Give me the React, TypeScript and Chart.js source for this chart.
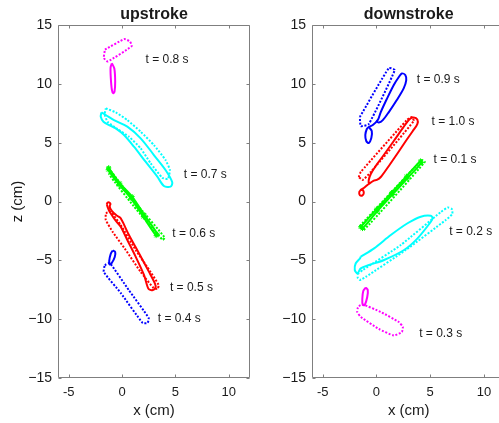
import React, { useEffect, useRef } from 'react';
import { Chart, registerables } from 'chart.js';

Chart.register(...registerables);

type P = [number, number];

const X_TICKS = [-5, 0, 5, 10];
const Y_TICKS = [-15, -10, -5, 0, 5, 10, 15];
const X_MIN = -6;
const X_MAX = 12;
// the right-hand axes run past the edge of the picture; only this much of it is visible
const X_MAX_VISIBLE_RIGHT = 11.4;
const Y_MIN = -15;
const Y_MAX = 15;

// ---------- upstroke ----------
const UP_08_SOLID: P[] = [[-0.95, 11.75], [-0.72, 11.3], [-0.64, 10.2], [-0.7, 9.35], [-0.82, 9.2], [-0.95, 9.5], [-1.05, 10.5], [-1.07, 11.4], [-0.95, 11.75]];
const UP_08_DOT: P[] = [[-1.6, 12.9], [0.2, 13.8], [0.75, 13.6], [0.9, 13.2], [-1.35, 11.9], [-1.7, 12.2], [-1.6, 12.9]];
const UP_07_SOLID: P[] = [[-1.93, 7.58], [-1.52, 7.35], [-0.75, 6.92], [0.5, 6.36], [1.75, 5.37], [2.99, 3.95], [4.08, 2.68], [4.71, 1.63], [4.55, 1.26], [3.93, 1.32], [3.31, 2.11], [2.21, 3.38], [1.12, 4.66], [0.19, 5.65], [-0.59, 6.22], [-1.21, 6.5], [-1.74, 6.78], [-1.99, 7.2], [-1.93, 7.58]];
const UP_07_DOT: P[] = [[-1.52, 7.92], [-0.59, 7.58], [0.5, 6.92], [1.75, 5.93], [2.99, 4.8], [4.08, 3.53], [4.49, 2.68], [4.3, 1.91], [3.78, 2.02], [2.68, 3.25], [1.75, 4.52], [0.65, 5.51], [-0.43, 6.16], [-1.36, 6.78], [-1.62, 7.41], [-1.52, 7.92]];
const UP_06_SOLID: P[] = [[-1.25, 2.85], [-0.2, 1.55], [0.95, 0.42], [2.1, -1.15], [3.33, -2.78], [3.2, -2.9], [2.0, -1.3], [0.85, 0.25], [-0.3, 1.45], [-1.3, 2.7], [-1.25, 2.85]];
const UP_06_DOT: P[] = [[-1.05, 2.6], [1.3, -0.15], [4.0, -3.05], [3.8, -3.25], [1.1, -0.4], [-1.2, 2.3], [-1.05, 2.6]];
const UP_05_SOLID: P[] = [[-1.43, -0.24], [-1.36, -0.1], [-1.21, -0.07], [-1.08, -0.21], [-1.15, -0.38], [-1.06, -0.66], [-0.75, -1.0], [-0.43, -1.23], [-0.12, -1.43], [0.65, -2.85], [1.59, -4.4], [2.52, -5.96], [3.08, -6.95], [3.15, -7.29], [2.9, -7.52], [2.52, -7.46], [2.37, -7.18], [2.06, -6.24], [1.28, -4.69], [0.5, -3.27], [-0.12, -2.14], [-0.59, -1.63], [-0.9, -1.23], [-1.21, -0.78], [-1.36, -0.44], [-1.43, -0.24]];
const UP_05_DOT: P[] = [[-1.52, -0.98], [-1.06, -0.89], [-0.12, -2.0], [1.28, -4.12], [2.68, -5.99], [3.43, -7.09], [3.34, -7.43], [2.96, -7.35], [1.75, -5.99], [0.35, -4.12], [-0.87, -2.59], [-1.52, -1.57], [-1.52, -0.98]];
const UP_04_SOLID: P[] = [[-0.87, -4.16], [-0.64, -4.29], [-0.68, -4.72], [-0.96, -5.23], [-1.15, -5.35], [-1.2, -5.06], [-1.06, -4.46], [-0.87, -4.16]];
const UP_04_DOT: P[] = [[-1.62, -5.4], [-1.15, -5.23], [0.63, -7.52], [2.5, -9.9], [2.4, -10.32], [1.93, -10.32], [-0.12, -7.77], [-1.71, -5.99], [-1.62, -5.4]];

const UP_LABELS = ['t = 0.8 s', 't = 0.7 s', 't = 0.6 s', 't = 0.5 s', 't = 0.4 s'];
const UP_LABEL_X = [2.21, 5.79, 4.71, 4.49, 3.36];
const UP_LABEL_Y = [12.08, 2.25, -2.7, -7.29, -9.98];

// ---------- downstroke ----------
const DN_09_SOLID: P[] = [[-0.72, 6.33], [-0.44, 5.99], [-0.48, 5.4], [-0.72, 4.97], [-0.95, 5.14], [-1.04, 5.65], [-0.9, 6.16], [-0.72, 6.33], [-0.34, 6.5], [0.12, 6.92], [0.4, 7.6], [0.96, 8.71], [1.61, 9.9], [2.08, 10.58], [2.36, 10.88], [2.68, 10.75], [2.77, 10.32], [2.54, 9.64], [1.89, 8.62], [1.15, 7.6], [0.59, 6.92], [0.21, 6.71], [0.03, 6.84], [0.12, 6.92]];
const DN_09_DOT: P[] = [[-1.55, 7.18], [1.15, 11.34], [1.7, 11.17], [-0.72, 6.58], [-1.46, 6.41], [-1.55, 7.18]];
const DN_10_SOLID: P[] = [[-1.46, 0.98], [-1.6, 0.81], [-1.55, 0.55], [-1.32, 0.51], [-1.18, 0.72], [-1.28, 0.98], [-1.46, 0.98], [-1.18, 1.15], [-0.72, 1.49], [-0.25, 1.78], [0.03, 1.83], [0.4, 2.08], [1.15, 3.02], [1.98, 4.12], [2.73, 5.14], [3.38, 5.99], [3.8, 6.58], [3.8, 6.97], [3.47, 7.14], [3.1, 7.01], [2.45, 6.24], [1.61, 5.14], [0.68, 3.95], [-0.07, 3.02], [-0.53, 2.34], [-0.72, 1.83], [-0.72, 1.49]];
const DN_10_DOT: P[] = [[-1.65, 2.08], [-1.46, 2.51], [2.82, 6.92], [3.29, 7.18], [3.47, 6.84], [-0.53, 2.51], [-1.28, 1.83], [-1.65, 2.08]];
const DN_01_SOLID: P[] = [[-1.45, -2.15], [0.0, -0.65], [1.4, 0.75], [2.8, 2.15], [4.1, 3.45], [4.2, 3.3], [2.9, 2.0], [1.5, 0.6], [0.1, -0.8], [-1.3, -2.3], [-1.45, -2.15]];
const DN_01_DOT: P[] = [[-1.55, -2.08], [4.22, 3.53], [4.5, 3.36], [-1.18, -2.42], [-1.55, -2.08]];
const DN_02_SOLID: P[] = [[-1.46, -4.69], [-0.22, -3.98], [1.33, -2.85], [2.89, -1.85], [4.12, -1.29], [5.06, -1.21], [5.21, -1.43], [5.06, -1.72], [3.82, -3.13], [2.57, -4.12], [0.71, -4.97], [-0.69, -5.4], [-1.46, -5.68], [-1.77, -6.1], [-2.02, -5.82], [-1.93, -5.25], [-1.53, -4.83], [-1.46, -4.69]];
const DN_02_DOT: P[] = [[-1.74, -6.16], [-1.27, -5.82], [2.26, -3.7], [5.99, -0.89], [6.64, -0.51], [7.01, -0.64], [7.06, -1.06], [6.45, -1.57], [2.73, -4.12], [-1.0, -6.41], [-1.55, -6.67], [-1.74, -6.5], [-1.74, -6.16]];
const DN_03_SOLID: P[] = [[-1.0, -7.31], [-0.81, -7.52], [-0.86, -8.11], [-1.09, -8.79], [-1.28, -8.79], [-1.32, -8.28], [-1.23, -7.6], [-1.0, -7.31]];
const DN_03_DOT: P[] = [[-1.65, -8.88], [-1.28, -8.75], [0.4, -9.39], [2.08, -10.24], [2.45, -10.66], [2.36, -11.09], [1.61, -11.38], [0.21, -10.83], [-1.46, -9.81], [-1.79, -9.39], [-1.74, -9.05], [-1.65, -8.88]];

const DN_LABELS = ['t = 0.9 s', 't = 1.0 s', 't = 0.1 s', 't = 0.2 s', 't = 0.3 s'];
const DN_LABEL_X = [3.75, 5.12, 5.31, 6.76, 3.97];
const DN_LABEL_Y = [10.38, 6.78, 3.53, -2.57, -11.2];

const MAGENTA = '#ff00ff';
const CYAN = '#00ffff';
const GREEN = '#00ff00';
const RED = '#ff0000';
const BLUE = '#0000ff';

const FONT = '"Liberation Sans", Arial, Helvetica, sans-serif';
const TEXT = '#1a1a1a';
const FRAME = '#7f7f7f';

type Series = { pts: P[]; color: string; dotted: boolean; star?: boolean };

const UP_SERIES: Series[] = [
  { pts: UP_08_DOT, color: MAGENTA, dotted: true },
  { pts: UP_08_SOLID, color: MAGENTA, dotted: false },
  { pts: UP_07_DOT, color: CYAN, dotted: true },
  { pts: UP_07_SOLID, color: CYAN, dotted: false },
  { pts: UP_06_DOT, color: GREEN, dotted: true },
  { pts: UP_06_SOLID, color: GREEN, dotted: false, star: true },
  { pts: UP_05_DOT, color: RED, dotted: true },
  { pts: UP_05_SOLID, color: RED, dotted: false },
  { pts: UP_04_DOT, color: BLUE, dotted: true },
  { pts: UP_04_SOLID, color: BLUE, dotted: false },
];

const DN_SERIES: Series[] = [
  { pts: DN_09_DOT, color: BLUE, dotted: true },
  { pts: DN_09_SOLID, color: BLUE, dotted: false },
  { pts: DN_10_DOT, color: RED, dotted: true },
  { pts: DN_10_SOLID, color: RED, dotted: false },
  { pts: DN_01_DOT, color: GREEN, dotted: true },
  { pts: DN_01_SOLID, color: GREEN, dotted: false, star: true },
  { pts: DN_02_DOT, color: CYAN, dotted: true },
  { pts: DN_02_SOLID, color: CYAN, dotted: false },
  { pts: DN_03_DOT, color: MAGENTA, dotted: true },
  { pts: DN_03_SOLID, color: MAGENTA, dotted: false },
];

const fmtTick = (v: number) => (v < 0 ? '\u2212' + Math.abs(v) : String(v));

function makeConfig(title: string, series: Series[], labels: string[], lx: number[], ly: number[], showZ: boolean, xMax: number, padRight: number, drawRight: boolean): any {
  const datasets = series.map((s) => ({
    data: s.pts.map(([x, y]) => ({ x, y })),
    borderColor: s.color,
    backgroundColor: s.color,
    borderWidth: 2,
    borderDash: s.dotted ? [2, 1.6] : [],
    tension: s.dotted ? 0.15 : 0.3,
    fill: false,
    showLine: true,
    pointRadius: s.star ? 2.5 : 0,
    pointStyle: 'star',
    pointBorderColor: s.color,
    pointBorderWidth: 1,
  }));

  const panelPlugin = {
    id: 'panel',
    afterDraw(chart: any) {
      const { ctx, chartArea: a, scales } = chart;
      const xs = scales.x;
      const ys = scales.y;
      ctx.save();
      ctx.strokeStyle = FRAME;
      ctx.lineWidth = 1;
      const L = Math.round(a.left) + 0.5;
      const R = drawRight ? Math.round(a.right) - 0.5 : Math.round(a.right) + 2;
      const T = Math.round(a.top) + 0.5;
      const B = Math.round(a.bottom) - 0.5;
      ctx.beginPath();
      ctx.moveTo(R, T);
      ctx.lineTo(L, T);
      ctx.lineTo(L, B);
      ctx.lineTo(R, B);
      if (drawRight) ctx.lineTo(R, T);
      ctx.stroke();
      const tl = 3;
      ctx.beginPath();
      X_TICKS.forEach((v) => {
        const px = Math.round(xs.getPixelForValue(v)) + 0.5;
        ctx.moveTo(px, B);
        ctx.lineTo(px, B - tl);
        ctx.moveTo(px, T);
        ctx.lineTo(px, T + tl);
      });
      Y_TICKS.forEach((v) => {
        const py = Math.round(ys.getPixelForValue(v)) + 0.5;
        ctx.moveTo(L, py);
        ctx.lineTo(L + tl, py);
        if (drawRight) {
          ctx.moveTo(R, py);
          ctx.lineTo(R - tl, py);
        }
      });
      ctx.stroke();

      ctx.fillStyle = TEXT;
      ctx.font = `bold 16px ${FONT}`;
      ctx.textAlign = 'center';
      ctx.textBaseline = 'middle';
      ctx.fillText(title, xs.getPixelForValue((X_MIN + X_MAX) / 2), 15);

      ctx.font = `15px ${FONT}`;
      ctx.fillText('x (cm)', xs.getPixelForValue((X_MIN + X_MAX) / 2), 411);

      ctx.font = `12px ${FONT}`;
      ctx.textAlign = 'left';
      labels.forEach((t, i) => {
        ctx.fillText(t, xs.getPixelForValue(lx[i]), ys.getPixelForValue(ly[i]));
      });
      ctx.restore();
    },
  };

  return {
    type: 'line',
    data: { datasets },
    plugins: [panelPlugin],
    options: {
      animation: false,
      responsive: false,
      devicePixelRatio: 1,
      layout: { autoPadding: false, padding: { top: 25, right: padRight, left: 0, bottom: 0 } },
      plugins: { legend: { display: false }, tooltip: { enabled: false }, title: { display: false } },
      scales: {
        x: {
          type: 'linear',
          min: X_MIN,
          max: xMax,
          afterBuildTicks: (s: any) => {
            s.ticks = X_TICKS.map((v) => ({ value: v }));
          },
          afterFit: (s: any) => {
            s.height = 45;
          },
          grid: { display: false, drawTicks: false },
          border: { display: false },
          ticks: { padding: 7, color: TEXT, font: { family: FONT, size: 13 }, maxRotation: 0 },
          title: { display: false },
        },
        y: {
          type: 'linear',
          min: Y_MIN,
          max: Y_MAX,
          afterBuildTicks: (s: any) => {
            s.ticks = Y_TICKS.map((v) => ({ value: v }));
          },
          afterFit: (s: any) => {
            s.width = 58;
          },
          grid: { display: false, drawTicks: false },
          border: { display: false },
          ticks: { padding: 6, color: TEXT, font: { family: FONT, size: 14 }, callback: (v: number) => fmtTick(v) },
          title: { display: showZ, text: 'z (cm)', color: TEXT, font: { family: FONT, size: 15 }, padding: { top: 9, bottom: 0 } },
        },
      },
    },
  };
}

function Panel(props: { left: number; width: number; config: () => any }) {
  const ref = useRef<HTMLCanvasElement | null>(null);
  useEffect(() => {
    if (!ref.current) return;
    const chart = new Chart(ref.current, props.config());
    return () => chart.destroy();
  }, []);
  return (
    <div style={{ position: 'absolute', left: props.left, top: 0, width: props.width, height: 423 }}>
      <canvas ref={ref} width={props.width} height={423} style={{ display: 'block', width: props.width, height: 423 }} />
    </div>
  );
}

export default function App() {
  return (
    <div style={{ position: 'absolute', left: 0, top: 0, width: 499, height: 423, overflow: 'hidden', background: '#fff' }}>
      <Panel left={0} width={260} config={() => makeConfig('upstroke', UP_SERIES, UP_LABELS, UP_LABEL_X, UP_LABEL_Y, true, X_MAX, 10, true)} />
      <Panel left={254} width={245} config={() => makeConfig('downstroke', DN_SERIES, DN_LABELS, DN_LABEL_X, DN_LABEL_Y, false, X_MAX_VISIBLE_RIGHT, 0, false)} />
    </div>
  );
}
